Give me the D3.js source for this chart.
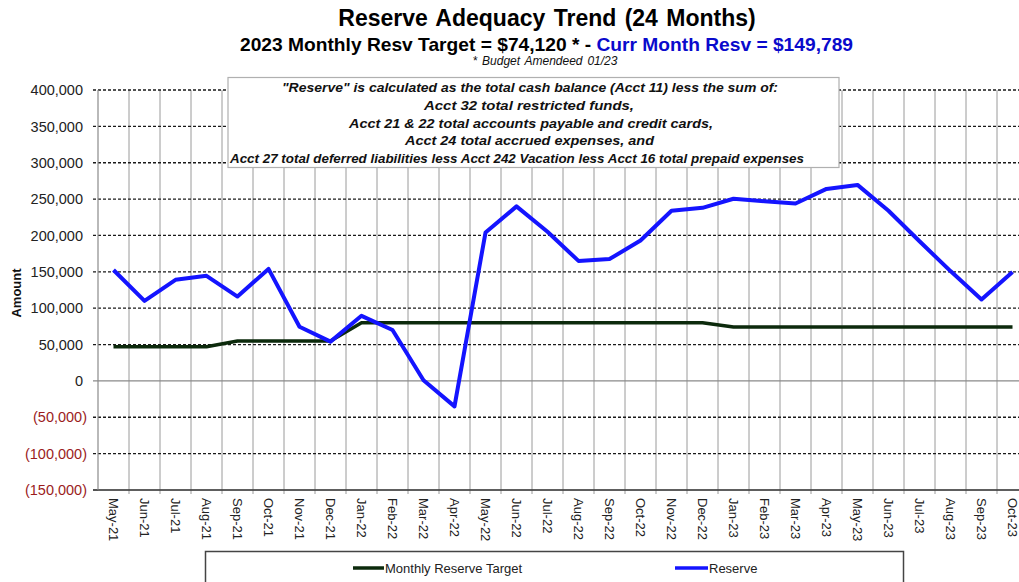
<!DOCTYPE html>
<html>
<head>
<meta charset="utf-8">
<script src="https://cdn.jsdelivr.net/npm/d3@7"></script>
<style>
  html, body { margin: 0; padding: 0; background: #fff; }
  svg { display: block; font-family: Arial, "Liberation Sans", sans-serif; }
</style>
</head>
<body>
<svg id="chart" width="1019" height="582"></svg>
<script>
// ---- data ----
const months = ["May-21","Jun-21","Jul-21","Aug-21","Sep-21","Oct-21","Nov-21","Dec-21",
  "Jan-22","Feb-22","Mar-22","Apr-22","May-22","Jun-22","Jul-22","Aug-22","Sep-22","Oct-22","Nov-22","Dec-22",
  "Jan-23","Feb-23","Mar-23","Apr-23","May-23","Jun-23","Jul-23","Aug-23","Sep-23","Oct-23"];
const reserve = [152500, 110000, 139000, 144500, 116000, 154000, 74500, 54000,
  89500, 70000, 1000, -35000, 204000, 240000, 205000, 165000, 167500, 193000, 234000, 238000,
  250500, 247000, 244000, 264000, 269500, 234000, 192000, 151000, 112000, 149789];
const target = [47000, 47000, 47000, 47000, 55000, 55000, 55000, 55000,
  80000, 80000, 80000, 80000, 80000, 80000, 80000, 80000, 80000, 80000, 80000, 80000,
  74120, 74120, 74120, 74120, 74120, 74120, 74120, 74120, 74120, 74120];
const yTicks = [400000, 350000, 300000, 250000, 200000, 150000, 100000, 50000, 0, -50000, -100000, -150000];
const titleText = "Reserve Adequacy Trend (24 Months)";
const subtitleA = "2023 Monthly Resv Target = $74,120 * - ";
const subtitleB = "Curr Month Resv = $149,789";
const footnote = "* Budget Amendeed 01/23";
const noteLines = [
  "\"Reserve\" is calculated as the total cash balance (Acct 11) less the sum of:",
  "Acct 32 total restricted funds,",
  "Acct 21 & 22 total accounts payable and credit cards,",
  "Acct 24 total accrued expenses, and",
  "Acct 27 total deferred liabilities less Acct 242 Vacation less Acct 16 total prepaid expenses"
];
const seriesNames = ["Monthly Reserve Target", "Reserve"];

// ---- layout ----
const svg = d3.select("#chart");
const plot = { left: 98, right: 1028, top: 90, bottom: 490 };

const x = d3.scaleBand().domain(months).range([plot.left, plot.right]).paddingInner(0).paddingOuter(0);
const y = d3.scaleLinear().domain([-150000, 400000]).range([plot.bottom, plot.top]);
const cx = m => x(m) + x.bandwidth() / 2;

const fmt = v => v < 0 ? "(" + d3.format(",")(-v) + ")" : d3.format(",")(v);

// vertical gridlines (at band boundaries)
const bounds = months.slice(1).map(m => x(m));
svg.append("g").selectAll("line").data(bounds).join("line")
  .attr("x1", d => d).attr("x2", d => d)
  .attr("y1", plot.top).attr("y2", plot.bottom + 4)
  .attr("stroke", "#9a9a9a").attr("stroke-width", 1);

// horizontal gridlines
svg.append("g").selectAll("line").data(yTicks).join("line")
  .attr("x1", plot.left - 5).attr("x2", plot.right)
  .attr("y1", d => y(d)).attr("y2", d => y(d))
  .attr("stroke", d => d === 0 ? "#8a8a8a" : "#1a1a1a")
  .attr("stroke-width", d => d === 0 ? 1.2 : 1.3)
  .attr("stroke-dasharray", d => (d === 0 || d === -150000) ? null : "3,2");

// axes lines
svg.append("line").attr("x1", plot.left).attr("x2", plot.left)
  .attr("y1", plot.top).attr("y2", plot.bottom).attr("stroke", "#8a8a8a").attr("stroke-width", 1.2);
svg.append("line").attr("x1", plot.left).attr("x2", plot.right)
  .attr("y1", plot.bottom).attr("y2", plot.bottom).attr("stroke", "#6a6a6a").attr("stroke-width", 1.2);

// y tick labels
svg.append("g").selectAll("text").data(yTicks).join("text")
  .attr("x", d => d < 0 ? 87 : 83)
  .attr("y", d => y(d))
  .attr("dy", "0.36em")
  .attr("text-anchor", "end")
  .attr("font-size", 14.5)
  .attr("fill", d => d < 0 ? "#9b1c1c" : "#222")
  .text(fmt);

// y axis title
svg.append("text")
  .attr("transform", "translate(21,293) rotate(-90)")
  .attr("text-anchor", "middle")
  .attr("font-size", 13).attr("font-weight", "bold").attr("fill", "#111")
  .text("Amount");

// x tick labels
svg.append("g").selectAll("text").data(months).join("text")
  .attr("transform", d => `translate(${cx(d)},498) rotate(90)`)
  .attr("dy", "0.35em")
  .attr("text-anchor", "start")
  .attr("font-size", 13).attr("fill", "#222")
  .text(d => d);

// lines
const line = d3.line().x((d, i) => cx(months[i])).y(d => y(d));
svg.append("path").datum(target).attr("d", line)
  .attr("fill", "none").attr("stroke", "#0c2a0c").attr("stroke-width", 3.5)
  .attr("stroke-linejoin", "round");
svg.append("path").datum(reserve).attr("d", line)
  .attr("fill", "none").attr("stroke", "#1414ff").attr("stroke-width", 4)
  .attr("stroke-linejoin", "round");

// annotation box
svg.append("rect").attr("x", 228).attr("y", 77.5).attr("width", 611).attr("height", 90)
  .attr("fill", "#fff").attr("stroke", "#b0b0b0").attr("stroke-width", 1.2);
const noteGeom = [
  { cx: 530, y: 92, w: 496 },
  { cx: 529, y: 110, w: 210 },
  { cx: 531, y: 127.5, w: 364 },
  { cx: 529.5, y: 145, w: 249 },
  { cx: 517, y: 162.5, w: 574 }
];
svg.append("g").selectAll("text").data(noteLines).join("text")
  .attr("x", (d, i) => noteGeom[i].cx)
  .attr("y", (d, i) => noteGeom[i].y)
  .attr("text-anchor", "middle")
  .attr("font-family", "'Liberation Sans Narrow', 'Arial Narrow', Arial, sans-serif")
  .attr("font-size", 13.5).attr("font-weight", "bold").attr("font-style", "italic")
  .attr("fill", "#111")
  .attr("textLength", (d, i) => noteGeom[i].w)
  .attr("lengthAdjust", "spacingAndGlyphs")
  .text(d => d);

// titles
svg.append("text").attr("x", 547).attr("y", 26).attr("text-anchor", "middle")
  .attr("font-size", 23).attr("font-weight", "bold").attr("word-spacing", 2).attr("fill", "#000")
  .text(titleText);
const sub = svg.append("text").attr("x", 546.5).attr("y", 51).attr("text-anchor", "middle")
  .attr("font-size", 18.5).attr("font-weight", "bold")
  .attr("textLength", 613).attr("lengthAdjust", "spacingAndGlyphs");
sub.append("tspan").attr("fill", "#000").text(subtitleA);
sub.append("tspan").attr("fill", "#0a0acc").text(subtitleB);
svg.append("text").attr("x", 545).attr("y", 65).attr("text-anchor", "middle")
  .attr("font-size", 12).attr("font-style", "italic").attr("fill", "#111")
  .attr("word-spacing", 1.5)
  .text(footnote);

// legend
svg.append("rect").attr("x", 205.5).attr("y", 551.5).attr("width", 698).attr("height", 40)
  .attr("fill", "#fff").attr("stroke", "#444").attr("stroke-width", 1.5);
const legendItems = [
  { name: seriesNames[0], color: "#0c2a0c", x1: 353, x2: 384 },
  { name: seriesNames[1], color: "#1414ff", x1: 675, x2: 708 }
];
const lg = svg.append("g").selectAll("g").data(legendItems).join("g");
lg.append("line").attr("x1", d => d.x1).attr("x2", d => d.x2)
  .attr("y1", 568).attr("y2", 568)
  .attr("stroke", d => d.color).attr("stroke-width", 3.5);
lg.append("text").attr("x", d => d.x2 + 1).attr("y", 568).attr("dy", "0.35em")
  .attr("font-size", 13).attr("fill", "#222").text(d => d.name);
</script>
</body>
</html>
